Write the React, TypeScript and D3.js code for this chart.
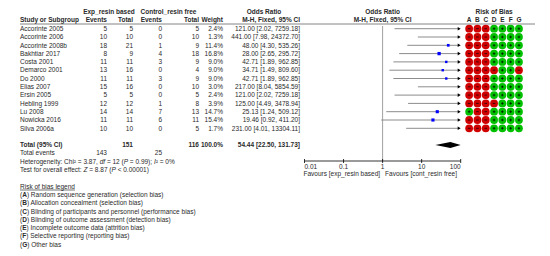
import React from "react";
import * as d3 from "d3";

const studies = ["Accorinte 2005","Accorinte 2006","Accorinte 2008b","Bakhtiar 2017","Costa 2001","Demarco 2001","Do 2000","Elias 2007","Ersin 2005","Hebling 1999","Lu 2008","Nowicka 2016","Silva 2006a"];
const expEvents = [5,10,18,8,11,13,11,15,5,12,14,11,10];
const expTotal = [5,10,21,9,11,16,11,16,5,12,14,11,10];
const ctlEvents = [0,0,1,4,3,0,3,0,0,1,7,6,0];
const ctlTotal = [5,10,9,18,9,4,9,10,5,8,13,11,5];
const weights = [2.4,1.3,11.4,16.8,9.0,9.0,9.0,3.0,2.4,3.9,14.7,15.4,1.7];
const orVal = [121.00,441.00,48.00,28.00,42.71,34.71,42.71,217.00,121.00,125.00,25.13,19.46,231.00];
const orLow = [2.02,7.98,4.30,2.65,1.89,1.49,1.89,8.04,2.02,4.49,1.24,0.92,4.01];
const orHigh = [7259.18,24372.70,535.26,295.72,962.85,809.60,962.85,5854.59,7259.18,3478.94,509.12,411.20,13304.11];
// risk of bias: H = high (red, -), L = low (green, +)
const rob = ["HHHLLLL","HHHLLLL","HHHLLLL","HHHLLLL","HHHLLLL","HHHHLLH","HHHLLLL","HHHLLLL","HHHLLLL","HHHHLLL","LHHLLLL","HHHLLLL","HHHLLLL"];
const robLetters = ["A","B","C","D","E","F","G"];
const total = { expTotal: 151, ctlTotal: 116, weight: 100.0, or: 54.44, low: 22.50, high: 131.73, expEvents: 143, ctlEvents: 25 };
const axisTicks = [0.01, 0.1, 1, 10, 100];
const axisTickLabels = ["0.01", "0.1", "1", "10", "100"];
const legendItems = [
  ["A", "Random sequence generation (selection bias)"],
  ["B", "Allocation concealment (selection bias)"],
  ["C", "Blinding of participants and personnel (performance bias)"],
  ["D", "Blinding of outcome assessment (detection bias)"],
  ["E", "Incomplete outcome data (attrition bias)"],
  ["F", "Selective reporting (reporting bias)"],
  ["G", "Other bias"],
];

const FONT = "'Liberation Sans', Arial, sans-serif";
const FS = 6.5;
const TXT = "#2a2a2a";

export default function App() {
  const W = 550, H = 256;
  const x = d3.scaleLog().domain([0.01, 100]).range([304.5, 460.7]);
  const row = d3.scaleLinear().domain([0, 1]).range([28.7, 37]);
  const robX = d3.scaleBand().domain(robLetters).range([465, 523.1]);
  const fmt = d3.format(".2f");
  const pct = d3.format(".1f");
  const cx = {
    name: 20, expE: 107, expT: 133, ctlE: 162, ctlT: 199, weight: 223, or: 300,
  };
  const yHead1 = 12, yHead2 = 20, yLine = 24;
  const yTotal = row(14), yEvents = row(15), yHet = row(16), yTest = row(17);
  const yLegTitle = row(19);
  const yAxis = 161;
  const sq = d3.scaleSqrt().domain([0, 20]).range([0, 3.6]);
  const xMin = x.range()[0], xMax = x.range()[1];
  const t = (s: any, px: number, py: number, anchor: string = "start", bold = false, extra: any = {}) => (
    <text x={px} y={py} dy="0.35em" textAnchor={anchor} fontWeight={bold ? "bold" : "normal"} {...extra}>{s}</text>
  );
  const diamond = [
    [x(total.low), yTotal],
    [x(total.or), yTotal - 3],
    [x(Math.min(total.high, 100)), yTotal],
    [x(total.or), yTotal + 3],
  ];
  return (
    <svg width={W} height={H} style={{ position: "absolute", left: 0, top: 0, background: "#fff" }} fontFamily={FONT} fontSize={FS} fill={TXT}>
      <rect x={0} y={0} width={W} height={H} fill="#fff" />
      {/* headers */}
      {t("Exp_resin based", (85 + cx.expT) / 2, yHead1, "middle", true)}
      {t("Control_resin free", (138 + cx.ctlT) / 2, yHead1, "middle", true)}
      {t("Odds Ratio", 264, yHead1, "middle", true)}
      {t("Odds Ratio", x(1), yHead1, "middle", true)}
      {t("Risk of Bias", robX("D")! + robX.bandwidth() / 2, yHead1, "middle", true)}
      {t("Study or Subgroup", cx.name, yHead2, "start", true)}
      {t("Events", cx.expE, yHead2, "end", true)}
      {t("Total", cx.expT, yHead2, "end", true)}
      {t("Events", cx.ctlE, yHead2, "end", true)}
      {t("Total", cx.ctlT, yHead2, "end", true)}
      {t("Weight", cx.weight, yHead2, "end", true)}
      {t("M-H, Fixed, 95% CI", cx.or, yHead2, "end", true)}
      {t("M-H, Fixed, 95% CI", x(1), yHead2, "middle", true)}
      {robLetters.map((l) => (
        <g key={l}>{t(l, robX(l)! + robX.bandwidth() / 2, yHead2, "middle", true)}</g>
      ))}
      <line x1={cx.name} x2={535} y1={yLine} y2={yLine} stroke="#666" strokeWidth={0.8} />
      {/* null line */}
      <line x1={x(1)} x2={x(1)} y1={yLine + 2} y2={yAxis} stroke="#888" strokeWidth={0.8} />
      {/* rows */}
      {studies.map((s, i) => {
        const y = row(i);
        const lo = Math.max(orLow[i], 0.01), hi = Math.min(orHigh[i], 100);
        const showSq = orVal[i] <= 100;
        const sz = sq(weights[i]);
        return (
          <g key={s}>
            {t(s, cx.name, y)}
            {t(expEvents[i], cx.expE, y, "end")}
            {t(expTotal[i], cx.expT, y, "end")}
            {t(ctlEvents[i], cx.ctlE, y, "end")}
            {t(ctlTotal[i], cx.ctlT, y, "end")}
            {t(pct(weights[i]) + "%", cx.weight, y, "end")}
            {t(`${fmt(orVal[i])} [${fmt(orLow[i])}, ${fmt(orHigh[i])}]`, cx.or, y, "end")}
            <line x1={x(lo)} x2={x(hi) - (orHigh[i] > 100 ? 2 : 0)} y1={y} y2={y} stroke="#8c8c8c" strokeWidth={1} />
            {orHigh[i] > 100 && (
              <path d={`M${x(100) - 3},${y - 1.8} L${x(100)},${y} L${x(100) - 3},${y + 1.8} Z`} fill="#000" />
            )}
            {showSq && (
              <rect x={x(orVal[i]) - sz / 2} y={y - sz / 2} width={sz} height={sz} fill="#0000ff" />
            )}
            {robLetters.map((l, k) => {
              const c = rob[i][k];
              const ccx = robX(l)! + robX.bandwidth() / 2;
              return (
                <g key={l}>
                  <circle cx={ccx} cy={y} r={3.9} fill={c === "H" ? "#d00000" : "#00c000"} />
                  {c === "H" ? (
                    <line x1={ccx - 1.3} x2={ccx + 1.3} y1={y} y2={y} stroke="#000" strokeWidth={0.7} />
                  ) : (
                    <path d={`M${ccx - 1.3},${y} H${ccx + 1.3} M${ccx},${y - 1.3} V${y + 1.3}`} stroke="#000" strokeWidth={0.7} />
                  )}
                </g>
              );
            })}
          </g>
        );
      })}
      {/* total */}
      {t("Total (95% CI)", cx.name, yTotal, "start", true)}
      {t(total.expTotal, cx.expT, yTotal, "end", true)}
      {t(total.ctlTotal, cx.ctlT, yTotal, "end", true)}
      {t(pct(total.weight) + "%", cx.weight, yTotal, "end", true)}
      {t(`${fmt(total.or)} [${fmt(total.low)}, ${fmt(total.high)}]`, cx.or, yTotal, "end", true)}
      <polygon points={diamond.map((p) => p.join(",")).join(" ")} fill="#000" />
      {t("Total events", cx.name, yEvents)}
      {t(total.expEvents, cx.expE, yEvents, "end")}
      {t(total.ctlEvents, cx.ctlE, yEvents, "end")}
      <text x={cx.name} y={yHet} dy="0.35em">
        Heterogeneity: Chi² = 3.87, <tspan fontStyle="italic">df</tspan> = 12 (<tspan fontStyle="italic">P</tspan> = 0.99); <tspan fontStyle="italic">I</tspan>² = 0%
      </text>
      <text x={cx.name} y={yTest} dy="0.35em">
        Test for overall effect: <tspan fontStyle="italic">Z</tspan> = 8.87 (<tspan fontStyle="italic">P</tspan> &lt; 0.00001)
      </text>
      {/* axis */}
      <line x1={xMin} x2={xMax} y1={yAxis} y2={yAxis} stroke="#000" strokeWidth={0.8} />
      {axisTicks.map((v, k) => (
        <g key={v}>
          <line x1={x(v)} x2={x(v)} y1={yAxis - 2} y2={yAxis + 2} stroke="#000" strokeWidth={0.8} />
          {t(axisTickLabels[k], x(v), yAxis + 5.5, k === 0 ? "start" : k === axisTicks.length - 1 ? "end" : "middle")}
        </g>
      ))}
      {t("Favours [exp_resin based]", x(1) - 2.5, yAxis + 12.5, "end")}
      {t("Favours [cont_resin free]", x(1) + 2.5, yAxis + 12.5, "start")}
      {/* legend */}
      {t("Risk of bias legend", cx.name, yLegTitle, "start", false, { textDecoration: "underline" })}
      {legendItems.map(([l, s], k) => (
        <text key={l} x={cx.name} y={row(20 + k)} dy="0.35em">
          (<tspan fontWeight="bold">{l}</tspan>) {s}
        </text>
      ))}
    </svg>
  );
}
